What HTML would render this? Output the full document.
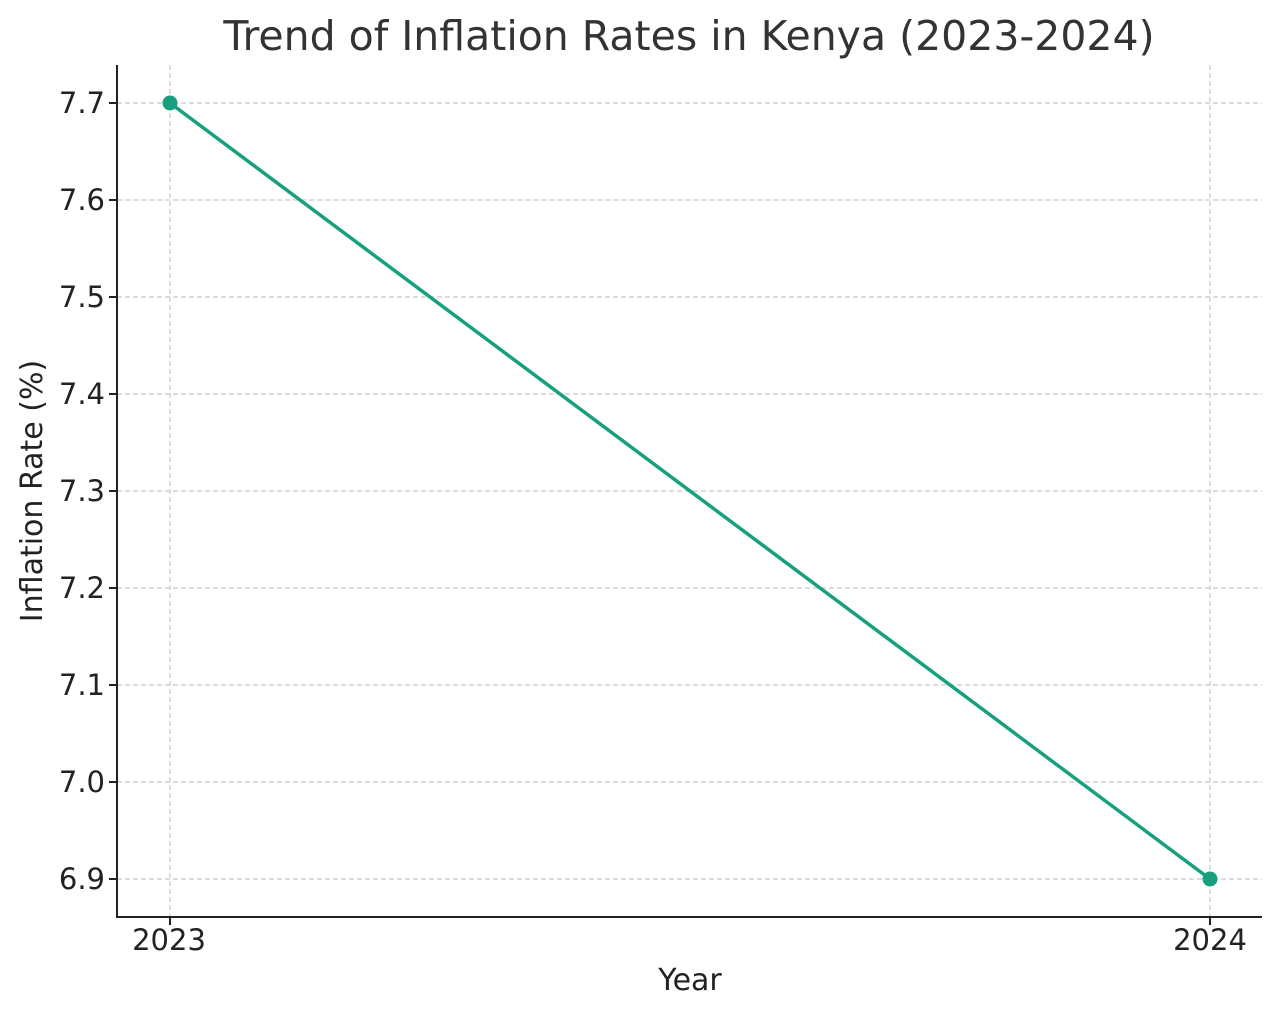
<!DOCTYPE html>
<html><head><meta charset="utf-8"><style>
html,body{margin:0;padding:0;background:#fff;}
svg{display:block;}
text{font-family:"DejaVu Sans","Liberation Sans",sans-serif;}
</style></head><body>
<svg width="1280" height="1016" viewBox="0 0 1280 1016" xmlns="http://www.w3.org/2000/svg">
<rect width="1280" height="1016" fill="#fff"/>
<text x="689" y="50" font-size="41" fill="#333" text-anchor="middle">Trend of Inflation Rates in Kenya (2023-2024)</text>
<g stroke="#c8c8c8" stroke-width="1.2" stroke-dasharray="5,3">
<line x1="117" x2="1262" y1="103" y2="103"/>
<line x1="117" x2="1262" y1="200" y2="200"/>
<line x1="117" x2="1262" y1="297" y2="297"/>
<line x1="117" x2="1262" y1="394" y2="394"/>
<line x1="117" x2="1262" y1="491" y2="491"/>
<line x1="117" x2="1262" y1="588" y2="588"/>
<line x1="117" x2="1262" y1="685" y2="685"/>
<line x1="117" x2="1262" y1="782" y2="782"/>
<line x1="117" x2="1262" y1="879" y2="879"/>
<line x1="170" x2="170" y1="65" y2="917"/>
<line x1="1210" x2="1210" y1="65" y2="917"/>
</g>
<g stroke="#222" stroke-width="2">
<line x1="117" x2="117" y1="65" y2="918"/>
<line x1="116" x2="1262" y1="917" y2="917"/>
<line x1="109" x2="117" y1="103" y2="103"/>
<line x1="109" x2="117" y1="200" y2="200"/>
<line x1="109" x2="117" y1="297" y2="297"/>
<line x1="109" x2="117" y1="394" y2="394"/>
<line x1="109" x2="117" y1="491" y2="491"/>
<line x1="109" x2="117" y1="588" y2="588"/>
<line x1="109" x2="117" y1="685" y2="685"/>
<line x1="109" x2="117" y1="782" y2="782"/>
<line x1="109" x2="117" y1="879" y2="879"/>
<line x1="170" x2="170" y1="917" y2="925"/>
<line x1="1210" x2="1210" y1="917" y2="925"/>
</g>
<g font-size="29" fill="#222" text-anchor="end">
<text x="105" y="113">7.7</text>
<text x="105" y="210">7.6</text>
<text x="105" y="307">7.5</text>
<text x="105" y="404">7.4</text>
<text x="105" y="501">7.3</text>
<text x="105" y="598">7.2</text>
<text x="105" y="695">7.1</text>
<text x="105" y="792">7.0</text>
<text x="105" y="889">6.9</text>
</g>
<g font-size="29" fill="#222" text-anchor="middle">
<text x="169" y="950">2023</text>
<text x="1210" y="950">2024</text>
</g>
<g font-size="30" fill="#222" text-anchor="middle">
<text x="690" y="990">Year</text>
<text transform="translate(42,491) rotate(-90)">Inflation Rate (%)</text>
</g>
<line x1="170" y1="103" x2="1210" y2="879" stroke="#17a07e" stroke-width="3.5"/>
<circle cx="170" cy="103" r="7.5" fill="#17a07e"/>
<circle cx="1210" cy="879" r="7.5" fill="#17a07e"/>
</svg>
</body></html>
